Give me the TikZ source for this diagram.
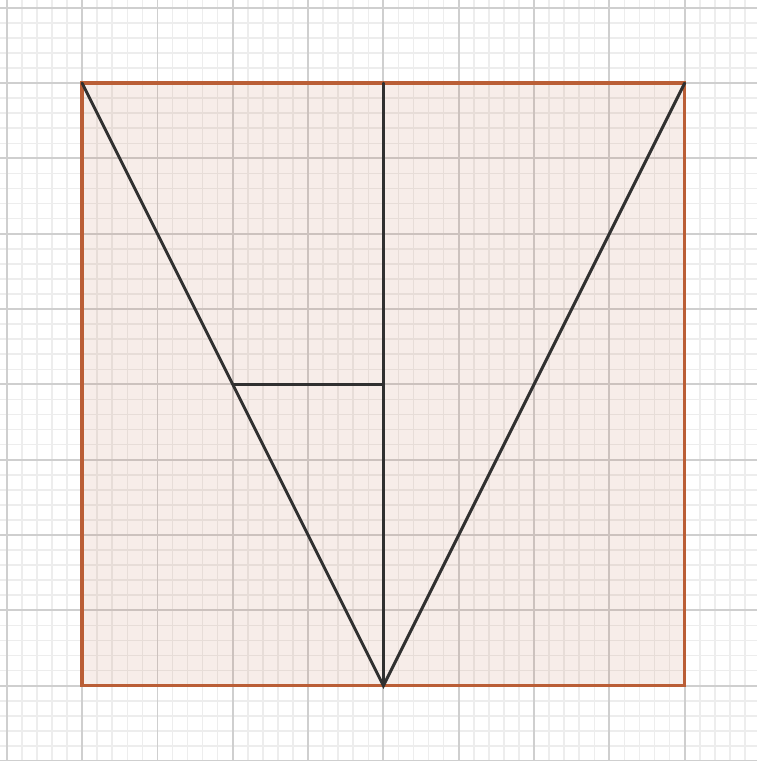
\documentclass[tikz,border=0pt]{standalone}
\begin{document}
\begin{tikzpicture}[
  minorgrid/.style={draw=black!7, line width=0.6pt},
  majorgrid/.style={draw=black!19, line width=0.7pt},
  shapeedge/.style={draw={rgb,255:red,186;green,94;blue,54}, line width=1.3pt, fill={rgb,255:red,186;green,94;blue,54}, fill opacity=0.11},
  segline/.style={draw={rgb,255:red,48;green,48;blue,48}, line width=1.1pt, line cap=round}
]
\useasboundingbox (-1.09,-1.0) rectangle (8.957,9.103);
\draw[minorgrid] (-1.2,-1.2) grid[step=0.2] (9.2,9.2);
\draw[majorgrid] (-1.2,-1.2) grid[step=1] (9.2,9.2);
\coordinate (A) at (0,0);
\coordinate (B) at (8,0);
\coordinate (C) at (8,8);
\coordinate (D) at (0,8);
\coordinate (M) at (4,0);
\coordinate (T) at (4,8);
\coordinate (H) at (2,4);
\coordinate (K) at (4,4);
\draw[shapeedge] (A) -- (B) -- (C) -- (D) -- cycle;
\draw[segline] (D) -- (M) -- (C);
\draw[segline] (T) -- (M);
\draw[segline] (H) -- (K);
\end{tikzpicture}
\end{document}
